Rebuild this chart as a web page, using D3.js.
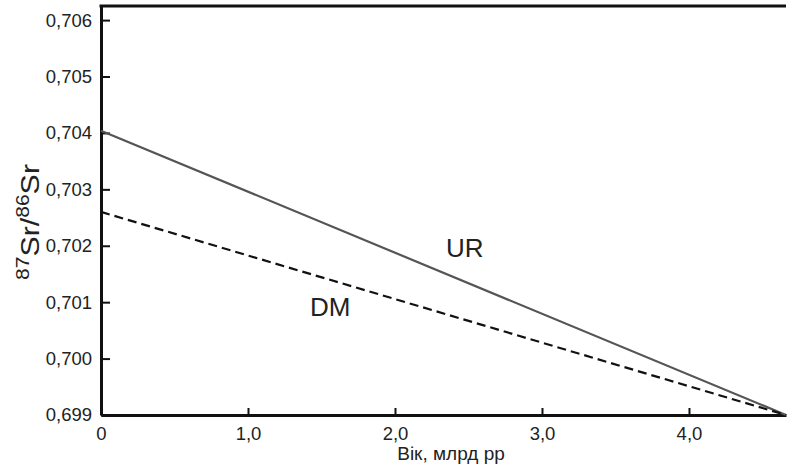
<!DOCTYPE html>
<html>
<head>
<meta charset="utf-8">
<script src="https://cdn.jsdelivr.net/npm/d3@7"></script>
<style>
  body { margin: 0; background: #fff; }
  text { font-family: "Liberation Sans", Arial, sans-serif; fill: #222; }
</style>
</head>
<body>
<script>
//chart data
var ages = [0, 4.66]; //billion years
var urValues = [0.70404, 0.699];
var dmValues = [0.7026, 0.699];
var xTicks = [0, 1, 2, 3, 4];
var yTicks = [0.699, 0.700, 0.701, 0.702, 0.703, 0.704, 0.705, 0.706];

window.onload = function () {
    var w = 787, h = 470;
    var left = 101, top = 6, right = 786, bottom = 415;

    var svg = d3.select("body")
        .append("svg")
        .attr("width", w)
        .attr("height", h);

    var x = d3.scaleLinear()
        .domain([0, 4.66])
        .range([left, right]);

    var y = d3.scaleLinear()
        .domain([0.699, 0.70625])
        .range([bottom, top]);

    var comma = function (s) { return s.replace(".", ","); };

    //y axis, ticks pointing inward
    var yAxis = d3.axisLeft(y)
        .tickValues(yTicks)
        .tickSizeInner(-9)
        .tickSizeOuter(0)
        .tickPadding(9)
        .tickFormat(function (d) { return comma(d3.format(".3f")(d)); });

    var gy = svg.append("g")
        .attr("transform", "translate(" + left + ",0)")
        .call(yAxis);

    //x axis, ticks pointing up
    var xAxis = d3.axisBottom(x)
        .tickValues(xTicks)
        .tickSizeInner(-7)
        .tickSizeOuter(0)
        .tickPadding(12)
        .tickFormat(function (d) { return d === 0 ? "0" : comma(d3.format(".1f")(d)); });

    var gx = svg.append("g")
        .attr("transform", "translate(0," + bottom + ")")
        .call(xAxis);

    [gx, gy].forEach(function (g) {
        g.select(".domain").attr("stroke", "#111").attr("stroke-width", 3);
        g.selectAll(".tick line").attr("stroke", "#111").attr("stroke-width", 2);
        g.selectAll(".tick text")
            .style("font-family", "'Liberation Sans', Arial, sans-serif")
            .style("font-size", "18.5px")
            .attr("fill", "#2a2a2a");
    });

    //top frame line
    svg.append("line")
        .attr("x1", left - 1.5).attr("x2", right)
        .attr("y1", top).attr("y2", top)
        .attr("stroke", "#111")
        .attr("stroke-width", 3);

    var line = d3.line()
        .x(function (d, i) { return x(ages[i]); })
        .y(function (d) { return y(d); });

    //UR curve
    svg.append("path")
        .datum(urValues)
        .attr("d", line)
        .attr("fill", "none")
        .attr("stroke", "#555")
        .attr("stroke-width", 2.2);

    //DM curve
    svg.append("path")
        .datum(dmValues)
        .attr("d", line)
        .attr("fill", "none")
        .attr("stroke", "#111")
        .attr("stroke-width", 2.2)
        .attr("stroke-dasharray", "9,5");

    //curve labels
    svg.append("text")
        .attr("x", 446).attr("y", 257)
        .style("font-size", "26px")
        .text("UR");

    svg.append("text")
        .attr("x", 310).attr("y", 316)
        .style("font-size", "26px")
        .text("DM");

    //x axis title
    svg.append("text")
        .attr("x", 451).attr("y", 460)
        .attr("text-anchor", "middle")
        .style("font-size", "19px")
        .text("Вік, млрд рр");

    //y axis title
    var yLabel = svg.append("text")
        .attr("transform", "translate(39,222) rotate(-90)")
        .attr("text-anchor", "middle")
        .attr("textLength", 116)
        .attr("lengthAdjust", "spacingAndGlyphs")
        .style("font-size", "26px");
    yLabel.append("tspan").attr("dy", "-10").style("font-size", "18px").text("87");
    yLabel.append("tspan").attr("dy", "10").text("Sr/");
    yLabel.append("tspan").attr("dy", "-10").style("font-size", "18px").text("86");
    yLabel.append("tspan").attr("dy", "10").text("Sr");
};
</script>
</body>
</html>
